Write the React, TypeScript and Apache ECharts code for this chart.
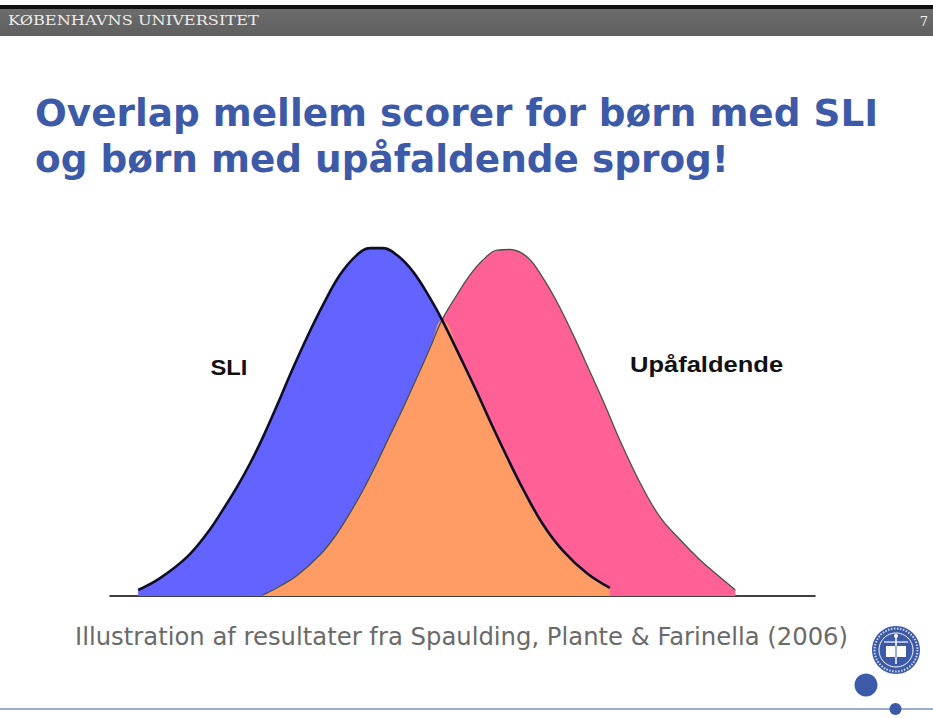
import React, { useEffect, useRef } from "react";
import * as echarts from "echarts";

// Score axis (arbitrary units 0..100) and density height (0..100)
const sliX = [4.0, 7.1, 10.9, 13.8, 16.0, 18.0, 19.9, 21.7, 23.7, 25.5, 27.9, 30.2, 32.6, 35.0, 36.9, 38.7, 40.7, 43.0, 45.4, 47.1, 50.1, 52.1, 53.9, 56.3, 58.6, 61.4, 64.3, 67.7, 70.9];
const sliY = [1.7, 5.1, 11.1, 18.0, 24.6, 31.1, 38.0, 45.4, 54.5, 63.0, 73.7, 83.1, 91.7, 97.4, 99.4, 99.4, 97.4, 92.6, 85.1, 78.9, 66.5, 58.0, 50.0, 39.8, 30.5, 20.5, 12.8, 6.4, 2.3];

const upaX = [21.7, 24.1, 26.5, 29.8, 31.9, 34.0, 35.9, 37.7, 39.4, 41.1, 43.5, 45.4, 47.1, 49.2, 51.1, 52.9, 54.9, 56.7, 59.2, 61.4, 63.4, 65.7, 68.1, 70.2, 72.3, 75.2, 78.0, 80.9, 83.7, 86.5, 88.7];
const upaY = [0.3, 2.8, 5.8, 11.8, 17.0, 23.6, 30.3, 37.4, 44.6, 51.7, 62.3, 70.9, 78.9, 86.0, 91.8, 96.0, 98.8, 99.0, 96.8, 90.9, 84.0, 74.6, 64.0, 54.6, 44.6, 32.3, 22.6, 16.0, 10.3, 5.4, 1.7];

const crossX = 47.1; // where the two curves meet

const seriesNames = ["SLI", "Upåfaldende"];
const titleLines = ["Overlap mellem scorer for børn med SLI", "og børn med upåfaldende sprog!"];
const caption = "Illustration af resultater fra Spaulding, Plante & Farinella (2006)";
const headerText = "KØBENHAVNS UNIVERSITET";
const pageNumber = "7";

const BLUE = "#6363FF";
const PINK = "#FF6196";
const ORANGE = "#FF9C66";
const KU = "#3D5AA8";

export default function App() {
  const ref = useRef<HTMLDivElement>(null);
  useEffect(() => {
    if (!ref.current) return;
    const chart = echarts.init(ref.current, undefined, { renderer: "svg" });
    const sli = sliX.map((x, i) => [x, sliY[i]]);
    const upa = upaX.map((x, i) => [x, upaY[i]]);
    const overlap = [
      ...upa.filter((p) => p[0] <= crossX),
      ...sli.filter((p) => p[0] > crossX),
    ];
    const smooth = 0.4;
    chart.setOption({
      animation: false,
      backgroundColor: "#ffffff",
      grid: { left: 110, right: 118, top: 246, bottom: 122 },
      xAxis: {
        type: "value",
        min: 0,
        max: 100,
        axisLine: { show: true, lineStyle: { color: "#000", width: 1.5 } },
        axisTick: { show: false },
        axisLabel: { show: false },
        splitLine: { show: false },
      },
      yAxis: {
        type: "value",
        min: 0,
        max: 100,
        show: false,
      },
      series: [
        {
          name: seriesNames[0] + " area",
          type: "line",
          data: sli,
          smooth,
          symbol: "none",
          lineStyle: { width: 0 },
          areaStyle: { color: BLUE, opacity: 1 },
          z: 1,
          silent: true,
        },
        {
          name: seriesNames[1] + " area",
          type: "line",
          data: upa,
          smooth,
          symbol: "none",
          lineStyle: { width: 0 },
          areaStyle: { color: PINK, opacity: 1 },
          z: 2,
          silent: true,
        },
        {
          name: "Overlap",
          type: "line",
          data: overlap,
          smooth,
          symbol: "none",
          lineStyle: { width: 0 },
          areaStyle: { color: ORANGE, opacity: 1 },
          z: 3,
          silent: true,
        },
        {
          name: seriesNames[1],
          type: "line",
          data: upa,
          smooth,
          symbol: "none",
          lineStyle: { color: "#4a5248", width: 1.3 },
          z: 4,
          silent: true,
        },
        {
          name: seriesNames[0],
          type: "line",
          data: sli,
          smooth,
          symbol: "none",
          lineStyle: { color: "#0e0e26", width: 2.6 },
          z: 5,
          silent: true,
        },
      ],
      graphic: [
        // header bar
        { type: "rect", shape: { x: 0, y: 5, width: 933, height: 5 }, style: { fill: "#111" }, z: 10 },
        {
          type: "rect",
          shape: { x: 0, y: 9, width: 933, height: 27 },
          style: {
            fill: new echarts.graphic.LinearGradient(0, 0, 0, 1, [
              { offset: 0, color: "#6c6c6c" },
              { offset: 1, color: "#5f5f5f" },
            ]),
          },
          z: 10,
        },
        {
          type: "text",
          x: 8,
          y: 21,
          scaleX: 1.35,
          style: {
            text: headerText,
            fill: "#ececec",
            fontFamily: "DejaVu Serif",
            fontSize: 12,
            textAlign: "left",
            textVerticalAlign: "middle",
          },
          z: 11,
        },
        {
          type: "text",
          x: 928,
          y: 21,
          style: {
            text: pageNumber,
            fill: "#ececec",
            fontFamily: "DejaVu Serif",
            fontSize: 13,
            textAlign: "right",
            textVerticalAlign: "middle",
          },
          z: 11,
        },
        // title
        {
          type: "text",
          x: 35,
          y: 113,
          style: {
            text: titleLines[0],
            fill: KU,
            fontFamily: "DejaVu Sans",
            fontWeight: "bold",
            fontSize: 37.4,
            textAlign: "left",
            textVerticalAlign: "middle",
          },
          z: 11,
        },
        {
          type: "text",
          x: 35,
          y: 159,
          style: {
            text: titleLines[1],
            fill: KU,
            fontFamily: "DejaVu Sans",
            fontWeight: "bold",
            fontSize: 37.4,
            textAlign: "left",
            textVerticalAlign: "middle",
          },
          z: 11,
        },
        // curve labels
        {
          type: "text",
          x: 229,
          y: 367,
          scaleX: 1.08,
          style: {
            text: seriesNames[0],
            fill: "#111",
            fontFamily: "Liberation Sans",
            fontWeight: "bold",
            fontSize: 22,
            textAlign: "center",
            textVerticalAlign: "middle",
          },
          z: 11,
        },
        {
          type: "text",
          x: 630,
          y: 364,
          scaleX: 1.16,
          style: {
            text: seriesNames[1],
            fill: "#111",
            fontFamily: "Liberation Sans",
            fontWeight: "bold",
            fontSize: 22,
            textAlign: "left",
            textVerticalAlign: "middle",
          },
          z: 11,
        },
        // caption
        {
          type: "text",
          x: 75,
          y: 636,
          style: {
            text: caption,
            fill: "#6a6a6a",
            fontFamily: "DejaVu Sans",
            fontSize: 24.3,
            textAlign: "left",
            textVerticalAlign: "middle",
          },
          z: 11,
        },
        // footer line and dots
        { type: "line", shape: { x1: 0, y1: 709, x2: 933, y2: 709 }, style: { stroke: KU, lineWidth: 1 }, z: 10 },
        { type: "circle", shape: { cx: 895.5, cy: 709, r: 6 }, style: { fill: KU }, z: 11 },
        { type: "circle", shape: { cx: 866, cy: 685, r: 11.5 }, style: { fill: KU }, z: 11 },
        // seal
        { type: "circle", shape: { cx: 896, cy: 650, r: 24 }, style: { fill: KU }, z: 11 },
        { type: "circle", shape: { cx: 896, cy: 650, r: 17 }, style: { fill: "none", stroke: "#ffffff", lineWidth: 1 }, z: 12 },
        { type: "circle", shape: { cx: 896, cy: 650, r: 21.5 }, style: { fill: "none", stroke: "#cfd8ee", lineWidth: 2, lineDash: [1.5, 1.5] }, z: 12 },
        { type: "rect", shape: { x: 886, y: 646, width: 20, height: 11 }, style: { fill: "#ffffff" }, z: 12 },
        { type: "line", shape: { x1: 896, y1: 646, x2: 896, y2: 657 }, style: { stroke: KU, lineWidth: 1 }, z: 13 },
        { type: "line", shape: { x1: 896, y1: 637, x2: 896, y2: 664 }, style: { stroke: "#ffffff", lineWidth: 1.5 }, z: 12 },
        { type: "line", shape: { x1: 884, y1: 642, x2: 908, y2: 642 }, style: { stroke: "#ffffff", lineWidth: 1.2 }, z: 12 },
        { type: "circle", shape: { cx: 896, cy: 636, r: 2 }, style: { fill: "#ffffff" }, z: 12 },
      ],
    });
    return () => chart.dispose();
  }, []);
  return (
    <div
      ref={ref}
      style={{ position: "fixed", left: 0, top: 0, width: 933, height: 718, background: "#fff" }}
    />
  );
}
